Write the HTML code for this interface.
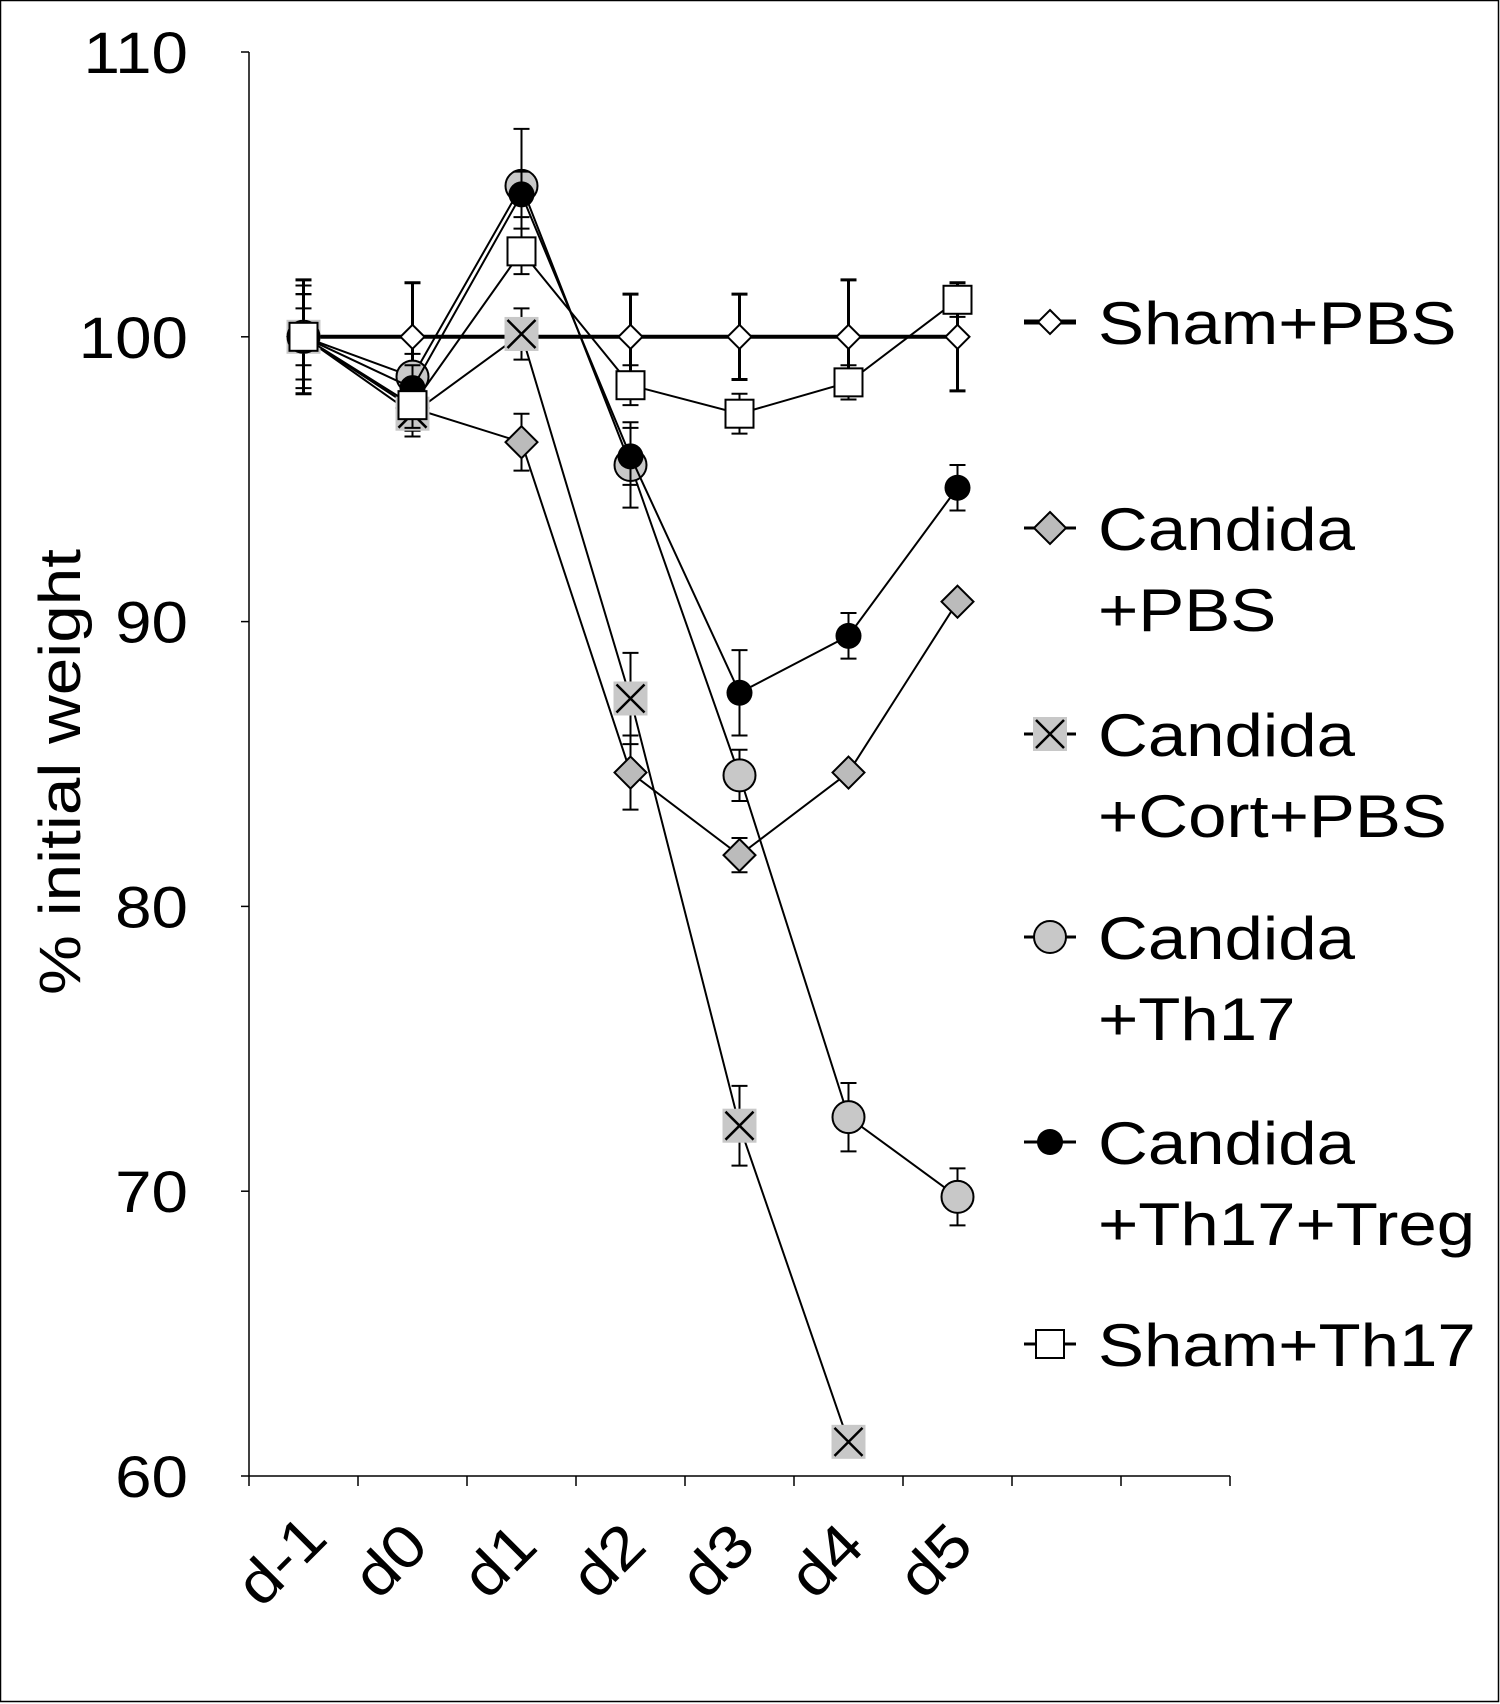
<!DOCTYPE html>
<html><head><meta charset="utf-8"><style>
body{margin:0;background:#fff}
svg{display:block;font-family:"Liberation Sans",sans-serif}
</style></head><body>
<svg id="chart" width="1500" height="1704" viewBox="0 0 1500 1704">
<rect x="0.5" y="0.5" width="1498" height="1701" fill="#fff" stroke="#000" stroke-width="1.5"/>
<g id="axes"></g><g id="series"></g><g id="legend"></g>
</svg>
<script>
const categories=["d-1","d0","d1","d2","d3","d4","d5"];
const yTicks=[60,70,80,90,100,110];
const seriesNames=["Sham+PBS","Candida\n+PBS","Candida\n+Cort+PBS","Candida\n+Th17","Candida\n+Th17+Treg","Sham+Th17"];
const shamPBS=[100,100,100,100,100,100,100];
const shamPBSErr=[2,1.9,0,1.5,1.5,2,1.9];
const candPBS=[100,97.5,96.3,84.7,81.8,84.7,90.7];
const candPBSErr=[1.5,0.8,1,1.3,0.6,0,0];
const candCort=[100,97.3,100.1,87.3,72.3,61.2,null];
const candCortErr=[1.5,0.8,0.9,1.6,1.4,0,0];
const candTh17=[100,98.6,105.3,95.5,84.6,72.6,69.8];
const candTh17Err=[1.8,0.8,2,1.5,0.9,1.2,1];
const candTreg=[100,98.2,105,95.8,87.5,89.5,94.7];
const candTregErr=[1.5,0.8,0.8,1,1.5,0.8,0.8];
const shamTh17=[100,97.6,103,98.3,97.3,98.4,101.3];
const shamTh17Err=[1,0.8,0.8,0.7,0.7,0.6,0.6];

const NS="http://www.w3.org/2000/svg";
const X0=249,XW=109,YTOP=52,YBOT=1476;
const xS=i=>X0+XW*(i+0.5);
const yS=v=>YBOT-(v-60)/50*(YBOT-YTOP);
function mk(tag,at,parent){const e=document.createElementNS(NS,tag);for(const k in at)e.setAttribute(k,at[k]);parent.appendChild(e);return e;}
const axes=document.getElementById('axes'),ser=document.getElementById('series'),leg=document.getElementById('legend');

let yl=mk('line',{x1:X0,y1:YTOP,x2:X0,y2:YBOT,stroke:'#000','stroke-width':1.5},axes);


let xl=mk('line',{x1:X0,y1:YBOT,x2:X0+XW*9,y2:YBOT,stroke:'#000','stroke-width':1.5},axes);


yTicks.forEach(v=>{
 mk('line',{x1:X0-8,y1:yS(v),x2:X0,y2:yS(v),stroke:'#000','stroke-width':1.5},axes);
 const t=mk('text',{'text-anchor':'end','font-size':58,transform:`translate(188 ${yS(v)+21}) scale(1.13 1)`},axes);t.textContent=v;
 
 
});
for(let i=0;i<=9;i++)mk('line',{x1:X0+XW*i,y1:YBOT,x2:X0+XW*i,y2:YBOT+10,stroke:'#000','stroke-width':1.5},axes);
categories.forEach((c,i)=>{
 const x=xS(i)-8,y=1575;
 const t=mk('text',{'text-anchor':'middle','font-size':60,transform:`translate(${x} ${y}) rotate(-45) scale(1.12 1)`},axes);t.textContent=c;
 
 
});
const yt=mk('text',{x:0,y:0,'text-anchor':'middle','font-size':58,textLength:446,lengthAdjust:'spacingAndGlyphs',transform:'translate(80 772) rotate(-90)'},axes);
yt.textContent='% initial weight';



function marker(type,x,y,g){
 const r=16;
 if(type==='diamondW')mk('polygon',{points:`${x},${y-12} ${x+12},${y} ${x},${y+12} ${x-12},${y}`,fill:'#fff',stroke:'#000','stroke-width':2},g);
 if(type==='diamondG')mk('polygon',{points:`${x},${y-16} ${x+16},${y} ${x},${y+16} ${x-16},${y}`,fill:'#bbb',stroke:'#000','stroke-width':2},g);
 if(type==='cross'){mk('rect',{x:x-17,y:y-17,width:34,height:34,fill:'#c8c8c8',stroke:'none'},g);mk('path',{d:`M${x-14} ${y-14}L${x+14} ${y+14}M${x+14} ${y-14}L${x-14} ${y+14}`,stroke:'#000','stroke-width':2.5},g);}
 if(type==='circG')mk('circle',{cx:x,cy:y,r:r,fill:'#c8c8c8',stroke:'#000','stroke-width':2},g);
 if(type==='circB')mk('circle',{cx:x,cy:y,r:13,fill:'#000'},g);
 if(type==='square')mk('rect',{x:x-14,y:y-14,width:28,height:28,fill:'#fff',stroke:'#000','stroke-width':2},g);
}
const defs=[
 ['sham-pbs',shamPBS,shamPBSErr,'diamondW',4],
 ['candida-pbs',candPBS,candPBSErr,'diamondG',2],
 ['candida-cort-pbs',candCort,candCortErr,'cross',2],
 ['candida-th17',candTh17,candTh17Err,'circG',2],
 ['candida-th17-treg',candTreg,candTregErr,'circB',2],
 ['sham-th17',shamTh17,shamTh17Err,'square',2]];
defs.forEach(([name,vals,errs,m,w])=>{
 const g=mk('g',{},ser);
 
 
 const pts=vals.map((v,i)=>v==null?null:[xS(i),yS(v)]).filter(p=>p);
 mk('polyline',{points:pts.map(p=>p.join(',')).join(' '),fill:'none',stroke:'#000','stroke-width':w},g);
 vals.forEach((v,i)=>{if(v==null||!errs[i])return;const x=xS(i),a=yS(v+errs[i]),b=yS(v-errs[i]);
  mk('path',{d:`M${x} ${a}L${x} ${b}M${x-8} ${a}L${x+8} ${a}M${x-8} ${b}L${x+8} ${b}`,stroke:'#000','stroke-width':w>3?3:2},g);});
 vals.forEach((v,i)=>{if(v==null)return;const p=mk('g',{},g);
  
  
  marker(m,xS(i),yS(v),p);});
});
const legY=[324,530,736,939,1144,1346];
defs.forEach(([name,,,m,w],k)=>{
 const g=mk('g',{},leg);
 
 
 const y=legY[k];
 mk('line',{x1:1024,y1:y-2,x2:1076,y2:y-2,stroke:'#000','stroke-width':w+1},g);
 marker(m,1050,y-2,g);
 seriesNames[k].split('\n').forEach((ln,j)=>{const t=mk('text',{'font-size':60,transform:`translate(1098 ${y+20+j*81}) scale(1.15 1)`},g);t.textContent=ln;});
});
</script>
</body></html>
